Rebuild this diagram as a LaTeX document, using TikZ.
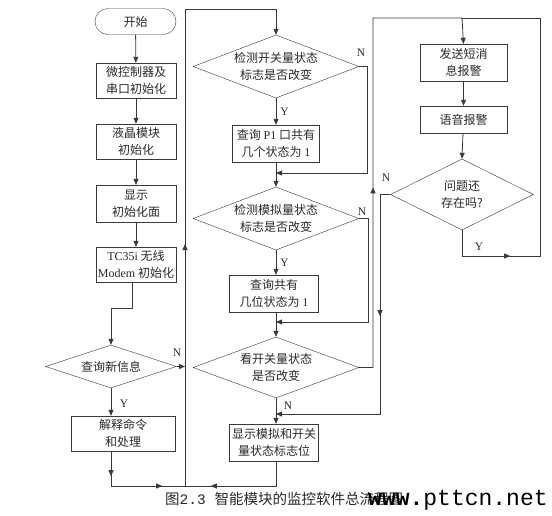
\documentclass[tikz,border=0pt]{standalone}
\usepackage{fontspec}
\setmainfont{Liberation Serif}
\newfontfamily\cjk{Noto Sans CJK SC}
\newfontfamily\wmono{Liberation Mono}
\usetikzlibrary{shapes.geometric,arrows.meta,decorations.markings}
\definecolor{lc}{HTML}{3A3A3A}
\definecolor{tc}{HTML}{2A2A2A}
\tikzset{
  >={Triangle[length=6pt,width=5pt]},
  txtfont/.style={font=\cjk\fontsize{12}{17}\selectfont, text=tc},
  box/.style={draw=lc, fill=white, inner sep=0pt, align=center, txtfont},
  term/.style={box, rounded corners=13pt},
  dia/.style={draw=lc, fill=white, diamond, inner sep=0pt},
  dtxt/.style={align=center, txtfont, inner sep=0pt},
  yn/.style={font=\rmfamily\fontsize{11.5}{12}\selectfont, text=tc, inner sep=0pt},
  conn/.style={draw=lc, line width=0.8pt},
  arr/.style={conn, ->},
  midmarks/.style={postaction={decorate}, decoration={markings, #1}},
}
\begin{document}
\begin{tikzpicture}[x=1pt,y=-1pt]
\fill[white] (0,0) rectangle (552,515);
\useasboundingbox (0,0) rectangle (552,515);

% left column
\node[term, minimum width=81pt, minimum height=26pt] (start) at (135.5,21.5) {开始};
\node[box, minimum width=80pt, minimum height=35pt] (b1) at (136,80.5) {微控制器及\\串口初始化};
\node[box, minimum width=80pt, minimum height=35pt] (b2) at (136,141.5) {液晶模块\\初始化};
\node[box, minimum width=80pt, minimum height=37pt] (b3) at (136,203.5) {显示\\初始化面};
\node[box, minimum width=80pt, minimum height=35pt] (b4) at (136,264.5) {{\rmfamily TC35i} 无线\\{\rmfamily Modem} 初始化};
\node[dia, minimum width=131pt, minimum height=43pt, label={[dtxt]center:查询新信息}] (d1) at (111,366.5) {};
\node[box, minimum width=104pt, minimum height=35pt] (b5) at (123,433.5) {解释命令\\和处理};

% middle column
\node[dia, minimum width=166pt, minimum height=63pt, label={[dtxt]center:{检测开关量状态\\标志是否改变}}] (m1) at (276,66.5) {};
\node[box, minimum width=87pt, minimum height=37pt] (b6) at (276,143.5) {查询 {\rmfamily P1} 口共有\\几个状态为 {\rmfamily 1}};
\node[dia, minimum width=166pt, minimum height=63pt, label={[dtxt]center:{检测模拟量状态\\标志是否改变}}] (m2) at (276,218.5) {};
\node[box, minimum width=89pt, minimum height=37pt] (b7) at (274,293.5) {查询共有\\几位状态为 {\rmfamily 1}};
\node[dia, minimum width=166pt, minimum height=61pt, label={[dtxt]center:{看开关量状态\\是否改变}}] (m3) at (276,367.5) {};
\node[box, minimum width=89pt, minimum height=37pt] (b8) at (274,442.5) {显示模拟和开关\\量状态标志位};

% right column
\node[box, minimum width=87pt, minimum height=37pt] (r1) at (463.5,62.5) {发送短消\\息报警};
\node[box, minimum width=87pt, minimum height=27pt] (r2) at (463.5,119.5) {语音报警};
\node[dia, minimum width=143pt, minimum height=71pt, label={[dtxt]center:{问题还\\存在吗?}}] (r3) at (462,194.5) {};

% junction coordinates
\coordinate (j1) at (185,486);
\coordinate (jtop) at (276,9);
\coordinate (rtop) at (462,18);

% left column connectors
\draw[arr] (start) -- (b1);
\draw[arr] (b1) -- (b2);
\draw[arr] (b2) -- (b3);
\draw[arr] (b3) -- (b4);
\draw[arr] (b4.south -| 132,0) -- (132,308) -- (111,308) -- (d1.north);
\draw[arr] (d1.east) -- (d1.east -| j1);
\node[yn] (n0) at (177,353) {N};
\draw[arr] (d1.south) -- (d1.south |- b5.north);
\node[yn] (y0) at (124,404) {Y};
\draw[conn, midmarks={mark=at position 25pt with {\arrow{>}}, mark=at position 86pt with {\arrow{>}}}]
  (d1.south |- b5.south) -- (111,486) -- (j1);
\draw[conn, midmarks={mark=at position 90pt with {\arrow{>}}}]
  (b8.south -| jtop) -- (276,486) -- (j1);
\draw[arr, midmarks={mark=at position 242pt with {\arrow{>}}}]
  (j1) -- (185,9) -- (jtop) -- (m1.north);

% middle column connectors
\draw[arr] (m1.south) -- (m1.south |- b6.north) node[yn, midway, right=4pt] {Y};
\draw[arr] (m1.east) -- (367,66.5) -- (367,173) -- (276,173);
\node[yn] (n1) at (361,53) {N};
\draw[arr] (b6) -- (m2.north);
\draw[arr] (m2.south) -- (m2.south |- b7.north) node[yn, midway, right=4pt] {Y};
\draw[arr] (m2.east) -- (368,218.5) -- (368,322) -- (276,322);
\node[yn] (n2) at (362,212) {N};
\draw[arr] (b7.south -| m3.north) -- (m3.north);
\draw[arr] (m3.south) -- (m3.south |- b8.north);
\node[yn] (n3) at (288,406) {N};
\draw[arr, midmarks={mark=at position 194pt with {\arrow{>}}}]
  (m3.east) -- (373,367.5) -- (373,18) -- (rtop) -- (r1.north);

% right column connectors
\draw[arr] (r1) -- (r2);
\draw[arr] (r2) -- (r3.north);
\draw[conn, midmarks={mark=at position 74pt with {\arrow{>}}}]
  (r3.south) -- (462,256) -- (540,256) -- (540,18) -- (rtop);
\node[yn] (y4) at (479,247) {Y};
\draw[arr, midmarks={mark=at position 132pt with {\arrow{>}}}]
  (r3.west) -- (380,194.5) -- (380,414) -- (276,414);
\node[yn] (n4) at (386,178) {N};

% caption and watermark
\node[anchor=base west, inner sep=0pt, font=\cjk\fontsize{14.5}{16}\selectfont, text=tc] (cap) at (165,504) {图{\wmono 2.3 }智能模块的监控软件总流程图};
\node[anchor=base west, inner sep=0pt, font=\wmono\fontsize{23}{24}\selectfont, text=black] (wm) at (368,505) {\textbf{www.}pttcn.net};
\end{tikzpicture}
\end{document}
